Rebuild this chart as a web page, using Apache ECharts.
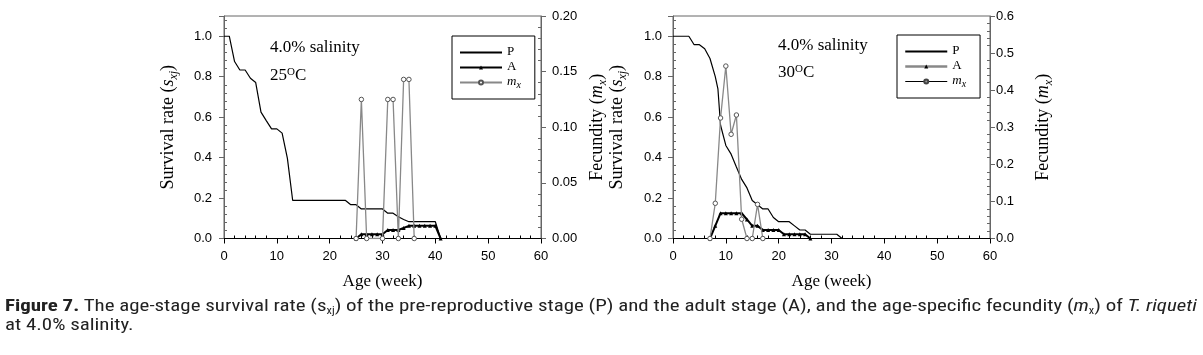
<!DOCTYPE html>
<html><head><meta charset="utf-8">
<script src="https://cdn.jsdelivr.net/npm/echarts@6/dist/echarts.min.js"></script>
<style>
html,body{margin:0;padding:0;background:#fff;width:1203px;height:355px;overflow:hidden;}
#chart{position:absolute;left:0;top:0;width:1203px;height:355px;}
#cap{position:absolute;left:5px;top:296px;font-family:"Liberation Sans Narrow","Roboto Condensed",Roboto,"Liberation Sans",sans-serif;font-size:17px;line-height:19px;color:#222;white-space:nowrap;transform-origin:0 0;}
#cap sub{font-size:10px;line-height:0;vertical-align:-3px;}
</style></head><body>
<div id="chart"></div>
<div id="cap"><span id="l1"><b>Figure 7.</b> The age-stage survival rate (s<sub>xj</sub>) of the pre-reproductive stage (P) and the adult stage (A), and the age-specific fecundity (<i>m</i><sub>x</sub>) of <i>T. riqueti</i></span><br>at 4.0% salinity.</div>
<script>
// ---- 25 °C panel ----
const weeksP25 = [0,1,2,3,4,5,6,7,8,9,10,11,12,13,14,15,16,17,18,19,20,21,22,23,24,25,26,27,28,29,30,31,32,33,34,35,36,37,38,39,40,41];
const P25 = [1.000,1.000,0.875,0.833,0.833,0.792,0.771,0.625,0.583,0.542,0.542,0.521,0.396,0.188,0.188,0.188,0.188,0.188,0.188,0.188,0.188,0.188,0.188,0.188,0.167,0.167,0.146,0.146,0.146,0.146,0.146,0.125,0.125,0.108,0.094,0.083,0.083,0.083,0.083,0.083,0.083,0.000];
const weeksA25 = [25,26,27,28,29,30,31,32,33,34,35,36,37,38,39,40,41];
const A25 = [0,0.021,0.021,0.021,0.021,0.021,0.042,0.042,0.042,0.052,0.0625,0.0625,0.0625,0.0625,0.0625,0.0625,0];
const weeksM25 = [25,26,27,30,31,32,33,34,35,36];
const M25 = [0,0.125,0,0,0.125,0.125,0,0.143,0.143,0];
// ---- 30 °C panel ----
const weeksP30 = [0,1,2,3,4,5,6,7,8,8.5,9,10,11,12,13,14,15,16,17,18,19,20,21,22,23,24,25,26,27,28,29,30,31,32];
const P30 = [1,1,1,1,0.958,0.958,0.938,0.89,0.80,0.74,0.56,0.46,0.417,0.354,0.292,0.25,0.188,0.167,0.146,0.146,0.104,0.083,0.083,0.083,0.0625,0.042,0.042,0.021,0.021,0.021,0.021,0.021,0.021,0];
const weeksA30 = [7,8,9,10,11,12,13,14,15,16,17,18,19,20,21,22,23,24,25,26];
const A30 = [0,0.0625,0.125,0.125,0.125,0.125,0.125,0.094,0.0625,0.0625,0.042,0.042,0.042,0.042,0.021,0.021,0.021,0.021,0.021,0];
const weeksM30 = [7,8,9,10,11,12,13,14,15,16,17];
const M30 = [0,0.095,0.325,0.465,0.281,0.333,0.052,0,0,0.092,0];
// ---- axis ticks ----
const xTicks = {min:0, max:60, interval:10};
const yLeft = {min:0, max:1.1, interval:0.2};
const yRight25 = {min:0, max:0.2, interval:0.05};
const yRight30 = {min:0, max:0.6, interval:0.1};

const serif = '"Liberation Serif","DejaVu Serif",serif';
const sans = '"Liberation Sans",Arial,sans-serif';
function pairs(xs, ys){ return xs.map((x,i)=>[x, ys[i]]); }

const nameRich = {
  n:{fontFamily:serif,fontSize:18,lineHeight:21,verticalAlign:'top',color:'#000'},
  i:{fontFamily:serif,fontSize:18,lineHeight:21,verticalAlign:'top',fontStyle:'italic',color:'#000'},
  s:{fontFamily:serif,fontSize:12,lineHeight:12,verticalAlign:'bottom',fontStyle:'italic',color:'#000'}
};
const legRich = {
  n:{fontFamily:serif,fontSize:13,lineHeight:15,verticalAlign:'top',color:'#000'},
  i:{fontFamily:serif,fontSize:13,lineHeight:15,verticalAlign:'top',fontStyle:'italic',color:'#000'},
  s:{fontFamily:serif,fontSize:10,lineHeight:10,verticalAlign:'bottom',fontStyle:'italic',color:'#000'}
};
const survName = '{n|Survival rate (}{i|s}{s|xj}{n|)}';
const fecName = '{n|Fecundity (}{i|m}{s|x}{n|)}';

function xAx(g){
  return {gridIndex:g, type:'value', min:xTicks.min, max:xTicks.max, interval:xTicks.interval, position:'bottom',
    axisLine:{onZero:false, lineStyle:{color:'#000',width:1}},
    axisTick:{inside:false,length:5,lineStyle:{color:'#000'}},
    minorTick:{show:true,splitNumber:5,length:-3,lineStyle:{color:'#000'}},
    axisLabel:{margin:11,fontFamily:sans,fontSize:13,color:'#000'},
    splitLine:{show:false},
    name:'Age (week)', nameLocation:'middle', nameGap:35, nameMoveOverlap:false,
    nameTextStyle:{fontFamily:serif,fontSize:17,color:'#000'}};
}
function yAx(g, pos, r, dec, margin, name, gap){
  return {gridIndex:g, type:'value', position:pos, min:r.min, max:r.max, interval:r.interval,
    alignTicks:false,
    axisLine:{show:true,onZero:false,lineStyle:{color:'#666',width:1}},
    axisTick:{inside:false,length:5,lineStyle:{color:'#666'}},
    minorTick:{show:true,splitNumber:5,length:-3,lineStyle:{color:'#666'}},
    axisLabel:{margin:margin,fontFamily:sans,fontSize:13,color:'#000',
      formatter:v=> v > r.max - r.interval/2 + 1e-9 && pos==='left' ? '' : v.toFixed(dec)},
    splitLine:{show:false},
    name:name, nameLocation:'middle', nameGap:gap, nameRotate:90, nameMoveOverlap:false,
    nameTextStyle:{rich:nameRich}};
}
function legFmt(n){
  const k = n.replace(/\d$/,'');
  return k==='mx' ? '{i|m}{s|x}' : '{n|'+k+'}';
}
function legend(left, top, items){
  return {left:left, top:top, orient:'vertical', padding:[9,14,9,7], itemGap:2,
    itemWidth:42, itemHeight:5, borderColor:'#000', borderWidth:1, selectedMode:false,
    textStyle:{fontFamily:serif,fontSize:13,color:'#000',rich:legRich},
    formatter:legFmt, data:items};
}
function ann(left, top, txt){
  return {type:'text', left:left, top:top, style:{text:txt, fill:'#000',
    rich:{n:{fontFamily:serif,fontSize:17,lineHeight:20,verticalAlign:'top',fill:'#000'},
          sup:{fontFamily:serif,fontSize:11,lineHeight:11,verticalAlign:'top',fill:'#000'}}}};
}
const noMark = {color:'rgba(0,0,0,0)',borderColor:'rgba(0,0,0,0)',borderWidth:0,opacity:0};

const chart = echarts.init(document.getElementById('chart'), null, {renderer:'canvas'});
chart.setOption({
  animation:false,
  backgroundColor:'#fff',
  grid:[
    {left:224, top:16, width:317, height:222.5, show:true, borderColor:'#666', borderWidth:1, outerBoundsMode:'none'},
    {left:673, top:16, width:317, height:222.5, show:true, borderColor:'#666', borderWidth:1, outerBoundsMode:'none'}
  ],
  xAxis:[xAx(0), xAx(1)],
  yAxis:[
    yAx(0,'left',yLeft,1,12,survName,44),
    yAx(0,'right',yRight25,2,11,fecName,47),
    yAx(1,'left',yLeft,1,11,survName,44),
    yAx(1,'right',yRight30,1,6,fecName,44)
  ],
  legend:[
    legend(452,36,[{name:'P1',itemStyle:noMark},{name:'A1'},{name:'mx1'}]),
    legend(897,35,[{name:'P2',itemStyle:noMark},
      {name:'A2', lineStyle:{color:'#888',width:2.5}, itemStyle:{color:'#000',borderColor:'#000'}},
      {name:'mx2', lineStyle:{color:'#000',width:1}, itemStyle:{color:'#999',borderColor:'#444'}}])
  ],
  graphic:[
    ann(270,39,'{n|4.0% salinity}'),
    ann(270,67,'{n|25}{sup|O}{n|C}'),
    ann(778,37,'{n|4.0% salinity}'),
    ann(778,64,'{n|30}{sup|O}{n|C}')
  ],
  series:[
    {name:'P1',type:'line',xAxisIndex:0,yAxisIndex:0,data:pairs(weeksP25,P25),symbol:'none',
      lineStyle:{color:'#000',width:1.2},itemStyle:{color:'#000'},z:2},
    {name:'A1',type:'line',xAxisIndex:0,yAxisIndex:0,data:pairs(weeksA25,A25),symbol:'triangle',symbolSize:4,showAllSymbol:true,
      lineStyle:{color:'#000',width:2},itemStyle:{color:'#000'},z:3},
    {name:'mx1',type:'line',xAxisIndex:0,yAxisIndex:1,data:pairs(weeksM25,M25),symbol:'circle',symbolSize:4.5,showAllSymbol:true,
      lineStyle:{color:'#888',width:1.3},itemStyle:{color:'#fff',borderColor:'#555',borderWidth:1},z:4},
    {name:'P2',type:'line',xAxisIndex:1,yAxisIndex:2,data:pairs(weeksP30,P30),symbol:'none',
      lineStyle:{color:'#000',width:1.2},itemStyle:{color:'#000'},z:2},
    {name:'A2',type:'line',xAxisIndex:1,yAxisIndex:2,data:pairs(weeksA30,A30),symbol:'triangle',symbolSize:4,showAllSymbol:true,
      lineStyle:{color:'#000',width:2},itemStyle:{color:'#000'},z:3},
    {name:'mx2',type:'line',xAxisIndex:1,yAxisIndex:3,data:pairs(weeksM30,M30),symbol:'circle',symbolSize:4.5,showAllSymbol:true,
      lineStyle:{color:'#888',width:1.3},itemStyle:{color:'#fff',borderColor:'#555',borderWidth:1},z:4}
  ]
});

const l1 = document.getElementById('l1');
const cap = document.getElementById('cap');
const w = l1.getBoundingClientRect().width;
cap.style.transform = 'scaleX(' + (1192 / w) + ')';
</script>
</body></html>
